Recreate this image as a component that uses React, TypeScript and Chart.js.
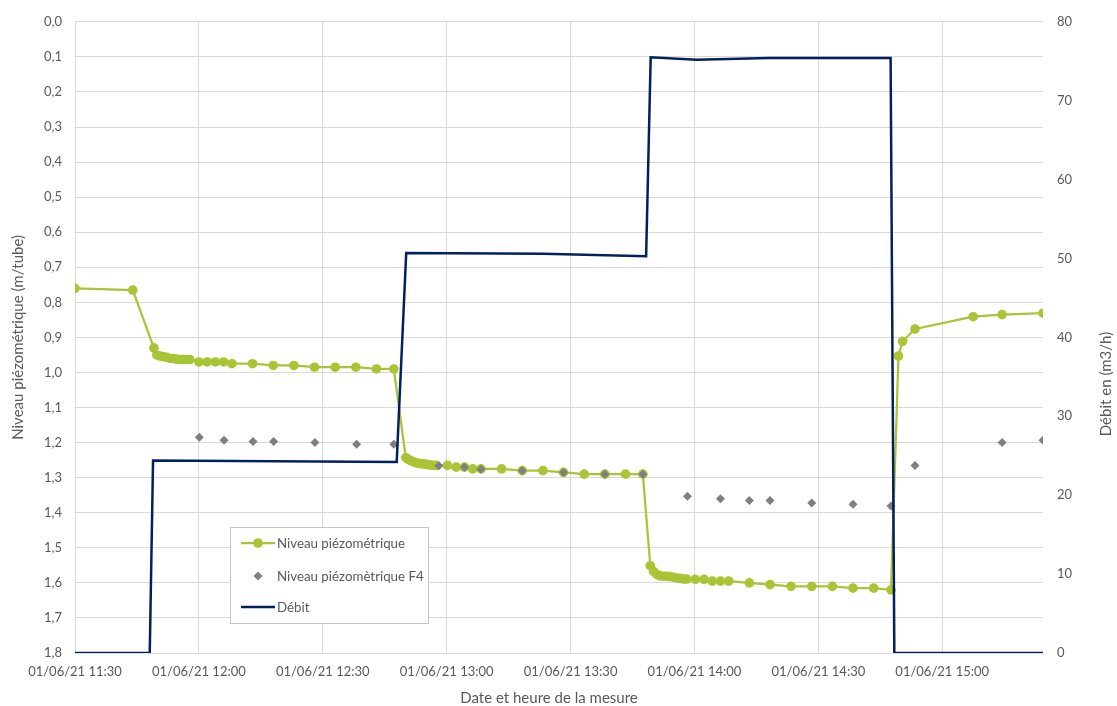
import React, { useEffect, useRef } from 'react';
import { Chart, registerables } from 'chart.js';

Chart.register(...registerables);

// ---- data (x = minutes after 01/06/21 11:30) ----
const START_MINUTES = 11 * 60 + 30;
const DATE_PREFIX = '01/06/21';

const niveauMinutes = [
  0, 14.0, 19.1, 19.8, 20.6, 21.4, 22.2, 23.0, 23.8, 24.6, 25.4, 26.2, 27.0, 27.8,
  30.0, 32.0, 34.0, 36.0, 38.0, 43.0, 48.0, 53.0, 58.0, 63.0, 68.0, 73.0, 77.2,
  80.1, 80.6, 81.2, 81.8, 82.5, 83.1, 83.6, 84.3, 84.9, 85.5, 86.1, 86.7, 87.5,
  90.2, 92.3, 94.3, 96.3, 98.3, 103.3, 108.3, 113.3, 118.3, 123.3, 128.3, 133.3, 137.5,
  139.3, 140.1, 140.9, 141.7, 142.5, 143.3, 144.1, 144.9, 145.7, 146.5, 147.3, 148.1,
  150.2, 152.3, 154.3, 156.3, 158.3, 163.3, 168.3, 173.4, 178.4, 183.4, 188.4, 193.4, 197.6,
  199.4, 200.4, 203.4, 217.5, 224.5, 234.4,
];
const niveauValues = [
  0.76, 0.765, 0.93, 0.95, 0.953, 0.955, 0.957, 0.96, 0.96, 0.962, 0.963, 0.963, 0.963, 0.963,
  0.97, 0.97, 0.97, 0.97, 0.975, 0.975, 0.98, 0.98, 0.985, 0.985, 0.985, 0.99, 0.99,
  1.243, 1.247, 1.251, 1.254, 1.257, 1.259, 1.26, 1.261, 1.261, 1.263, 1.264, 1.265, 1.265,
  1.265, 1.27, 1.27, 1.275, 1.275, 1.275, 1.28, 1.28, 1.285, 1.29, 1.29, 1.29, 1.29,
  1.551, 1.567, 1.576, 1.58, 1.581, 1.581, 1.582, 1.584, 1.586, 1.587, 1.589, 1.589,
  1.59, 1.59, 1.595, 1.595, 1.595, 1.6, 1.605, 1.61, 1.61, 1.61, 1.615, 1.615, 1.62,
  0.953, 0.911, 0.876, 0.841, 0.835, 0.831,
];

const f4Minutes = [
  30.1, 36.1, 43.1, 48.1, 58.1, 68.2, 77.2,
  88.1, 94.3, 98.3, 108.3, 118.3, 128.3, 137.5,
  148.3, 156.3, 163.3, 168.3, 178.4, 188.4, 197.6,
  203.4, 224.5, 234.4,
];
const f4Values = [
  1.185, 1.193, 1.197, 1.197, 1.2, 1.205, 1.205,
  1.266, 1.27, 1.276, 1.28, 1.285, 1.29, 1.29,
  1.353, 1.36, 1.365, 1.365, 1.372, 1.376, 1.381,
  1.265, 1.2, 1.193,
];

const debitMinutes = [0, 18.1, 18.9, 77.9, 80.2, 113.3, 138.3, 139.4, 150.5, 168.1, 197.5, 198.4, 234.4];
const debitValues = [0, 0, 24.4, 24.2, 50.7, 50.6, 50.3, 75.5, 75.2, 75.4, 75.4, 0, 0];

const SERIES_NAMES = ['Niveau piézométrique', 'Niveau piézomètrique F4', 'Débit'];
const TITLE_LEFT = 'Niveau piézométrique (m/tube)';
const TITLE_RIGHT = 'Débit en (m3/h)';
const TITLE_X = 'Date et heure de la mesure';

// ---- styles ----
const GREEN = '#a9c434';
const GRAY = '#7f7f7f';
const NAVY = '#002060';
const GRID = '#d9d9d9';
const TEXT = '#595959';
const FONT_FAMILY = 'Lato, "Open Sans", sans-serif';

function fmtTime(v: number): string {
  const total = Math.round(START_MINUTES + v);
  const h = Math.floor(total / 60);
  const m = total % 60;
  return `${DATE_PREFIX} ${String(h).padStart(2, '0')}:${String(m).padStart(2, '0')}`;
}

const decorPlugin = {
  id: 'decor',
  afterDraw(chart: any) {
    const ctx = chart.ctx as CanvasRenderingContext2D;
    const ca = chart.chartArea;
    ctx.save();
    ctx.fillStyle = TEXT;
    ctx.font = `15px ${FONT_FAMILY}`;
    ctx.textBaseline = 'middle';
    ctx.textAlign = 'center';

    // axis titles
    ctx.save();
    ctx.translate(18, (ca.top + ca.bottom) / 2);
    ctx.rotate(-Math.PI / 2);
    ctx.fillText(TITLE_LEFT, 0, 0);
    ctx.restore();

    ctx.save();
    ctx.translate(1106, 384);
    ctx.rotate(-Math.PI / 2);
    ctx.fillText(TITLE_RIGHT, 0, 0);
    ctx.restore();

    ctx.fillText(TITLE_X, 549, 698);

    // legend box
    const bx = 230.5, by = 527.5, bw = 198, bh = 96;
    ctx.fillStyle = '#ffffff';
    ctx.fillRect(bx, by, bw, bh);
    ctx.strokeStyle = '#c6c6c6';
    ctx.lineWidth = 1;
    ctx.strokeRect(bx, by, bw, bh);

    const rows = [543, 576, 607];
    const x0 = 241, x1 = 275, xm = 258, tx = 277;

    // row 1: green line + circle
    ctx.strokeStyle = GREEN;
    ctx.lineWidth = 2.25;
    ctx.beginPath();
    ctx.moveTo(x0, rows[0]);
    ctx.lineTo(x1, rows[0]);
    ctx.stroke();
    ctx.fillStyle = GREEN;
    ctx.beginPath();
    ctx.arc(xm, rows[0], 4.8, 0, Math.PI * 2);
    ctx.fill();

    // row 2: gray diamond
    ctx.fillStyle = GRAY;
    ctx.beginPath();
    const r = 4.5;
    ctx.moveTo(xm - r, rows[1]);
    ctx.lineTo(xm, rows[1] - r);
    ctx.lineTo(xm + r, rows[1]);
    ctx.lineTo(xm, rows[1] + r);
    ctx.closePath();
    ctx.fill();

    // row 3: navy line
    ctx.strokeStyle = NAVY;
    ctx.lineWidth = 2.5;
    ctx.beginPath();
    ctx.moveTo(x0, rows[2]);
    ctx.lineTo(x1, rows[2]);
    ctx.stroke();

    ctx.fillStyle = TEXT;
    ctx.font = `13.3px ${FONT_FAMILY}`;
    ctx.textAlign = 'left';
    SERIES_NAMES.forEach((name, i) => ctx.fillText(name, tx, rows[i] + 1));
    ctx.restore();
  },
};

export default function App() {
  const canvasRef = useRef<HTMLCanvasElement | null>(null);

  useEffect(() => {
    if (!canvasRef.current) return;
    Chart.defaults.font.family = FONT_FAMILY;
    const tickFont = { size: 13, family: FONT_FAMILY };

    const chart = new Chart(canvasRef.current, {
      type: 'line',
      data: {
        datasets: [
          {
            label: SERIES_NAMES[0],
            data: niveauMinutes.map((x, i) => ({ x, y: niveauValues[i] })),
            yAxisID: 'y',
            borderColor: GREEN,
            backgroundColor: GREEN,
            borderWidth: 2.25,
            pointRadius: 4.8,
            pointBorderWidth: 0,
            pointBackgroundColor: GREEN,
            tension: 0,
            order: 2,
          },
          {
            label: SERIES_NAMES[1],
            data: f4Minutes.map((x, i) => ({ x, y: f4Values[i] })),
            yAxisID: 'y',
            showLine: false,
            borderColor: GRAY,
            backgroundColor: GRAY,
            pointStyle: 'rectRot',
            pointRadius: 4.5,
            pointBorderWidth: 0,
            pointBackgroundColor: GRAY,
            order: 1,
          },
          {
            label: SERIES_NAMES[2],
            data: debitMinutes.map((x, i) => ({ x, y: debitValues[i] })),
            yAxisID: 'y1',
            borderColor: NAVY,
            backgroundColor: NAVY,
            borderWidth: 2.5,
            pointRadius: 0,
            tension: 0,
            order: 0,
          },
        ],
      },
      options: {
        responsive: false,
        animation: false,
        devicePixelRatio: 1,
        layout: { padding: { top: 17, left: 0, right: 0, bottom: 0 } },
        plugins: {
          legend: { display: false },
          tooltip: { enabled: false },
        },
        scales: {
          x: {
            type: 'linear',
            min: 0,
            max: 234.4,
            afterFit: (s: any) => { s.height = 53; },
            grid: { color: GRID, lineWidth: 1, drawTicks: false },
            border: { display: false },
            ticks: {
              stepSize: 30,
              includeBounds: false,
              autoSkip: false,
              maxRotation: 0,
              padding: 11,
              color: TEXT,
              font: tickFont,
              callback: (v: any) => fmtTime(Number(v)),
            },
          },
          y: {
            type: 'linear',
            position: 'left',
            reverse: true,
            min: 0,
            max: 1.8,
            afterFit: (s: any) => { s.width = 75; },
            grid: { color: GRID, lineWidth: 1, drawTicks: false },
            border: { display: false },
            ticks: {
              stepSize: 0.1,
              autoSkip: false,
              padding: 13,
              color: TEXT,
              font: tickFont,
              callback: (v: any) => Number(v).toFixed(1).replace('.', ','),
            },
          },
          y1: {
            type: 'linear',
            position: 'right',
            min: 0,
            max: 80,
            afterFit: (s: any) => { s.width = 74; },
            grid: { display: false, drawTicks: false },
            border: { display: false },
            ticks: {
              stepSize: 10,
              autoSkip: false,
              padding: 14,
              color: TEXT,
              font: tickFont,
            },
          },
        },
      },
      plugins: [decorPlugin],
    } as any);

    return () => chart.destroy();
  }, []);

  return (
    <div style={{ position: 'fixed', left: 0, top: 0, width: 1117, height: 706, background: '#ffffff' }}>
      <canvas ref={canvasRef} width={1117} height={706} style={{ display: 'block' }} />
    </div>
  );
}
